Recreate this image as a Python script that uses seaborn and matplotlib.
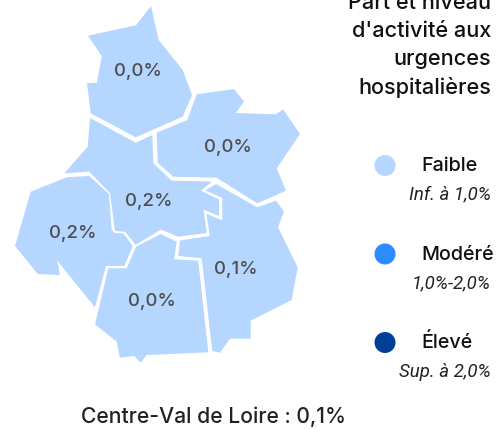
import seaborn as sns
import matplotlib.pyplot as plt
import pandas as pd

# ----------------------------
# Data read from the map
# ----------------------------
regions = ["Eure-et-Loir", "Loiret", "Loir-et-Cher", "Indre-et-Loire", "Indre", "Cher"]
shares = ["0,0%", "0,0%", "0,2%", "0,2%", "0,0%", "0,1%"]
levels = ["Faible", "Faible", "Faible", "Faible", "Faible", "Faible"]

# department outlines, in picture pixels
eure_et_loir = [(151, 6), (158.7, 40), (182.7, 70), (192, 95), (182.7, 116.7), (135.7, 137.3),
                (90.7, 113.3), (87, 83.3), (97, 82.7), (101.7, 56), (88, 35.7), (136, 25.3)]
loiret = [(196.7, 94.3), (234, 89), (244, 101.3), (236, 113), (276, 114.3), (283, 109.3),
          (300, 134), (276.7, 168.3), (286, 190.7), (257.3, 203.3), (216.7, 177.7),
          (173.3, 176.7), (157.7, 162.7), (156.7, 132.7), (187.3, 120)]
loir_et_cher = [(90, 118), (135.7, 142.7), (152.3, 135), (153.3, 163.3), (171.7, 180.7),
                (212, 181.5), (201, 190.7), (219, 199.5), (219, 216), (203.5, 209.5),
                (206.7, 233), (178, 236.7), (161, 229.5), (135.7, 245), (125, 231.7),
                (115, 231), (110, 193.3), (89.3, 171.7), (64.3, 173.3), (87.7, 146.7)]
indre_et_loire = [(30.7, 191.7), (66.7, 177.3), (89.3, 176), (109, 194), (111.7, 230),
                  (115, 233.3), (123.3, 233.3), (132.7, 246), (124.3, 266), (106, 266),
                  (95, 307.3), (57.3, 260.7), (60, 275), (37.7, 274), (15, 246)]
indre = [(136, 246.7), (160.7, 234), (176.7, 241.7), (174, 259.3), (198.3, 260.7),
         (208.3, 352.3), (146.7, 355), (140.7, 362.7), (134, 356), (120, 357.7),
         (116.7, 341.7), (95, 324.3), (108.3, 268.3), (126.7, 268.3)]
cher = [(216, 184), (257.3, 207.3), (276, 200.7), (284, 211.7), (278, 227.3), (297.7, 267.3),
        (291.7, 300), (250.7, 320.7), (250.7, 338.7), (230, 338.7), (220, 352.7), (212.3, 351),
        (201.7, 258.3), (178.3, 256), (180, 240.5), (209.8, 236), (206.5, 213.7),
        (222.3, 220.5), (222.3, 198), (205.5, 190.5)]
outlines = [eure_et_loir, loiret, loir_et_cher, indre_et_loire, indre, cher]

legend_levels = ["Faible", "Modéré", "Élevé"]
legend_ranges = ["Inf. à 1,0%", "1,0%-2,0%", "Sup. à 2,0%"]
level_colors = ["#b5d6ff", "#2b8bff", "#003f98"]

title_lines = ["Part et niveau", "d'activité aux", "urgences", "hospitalières"]
footer = "Centre-Val de Loire : 0,1%"

# ----------------------------
# Map
# ----------------------------
sns.set_theme(style="white")
plt.rcParams["font.family"] = ["Inter", "DejaVu Sans"]
palette = dict(zip(legend_levels, level_colors))

fig, ax = plt.subplots(figsize=(5.03, 4.30), dpi=100)
ax.set_position([0, 0, 1, 1])

label_spots = [(138, 72), (228, 148), (149, 202), (73, 233), (152, 301), (236, 269)]
for outline, level, share, spot in zip(outlines, levels, shares, label_spots):
    xs, ys = zip(*outline)
    ax.fill(xs, ys, color=palette[level], lw=0)
    ax.text(spot[0], spot[1], share, color="#4d4d4d", fontsize=13.4, fontweight="medium",
            ha="center", va="center")

# ----------------------------
# Legend
# ----------------------------
for i, line in enumerate(title_lines):
    ax.text(491, 3 + i * 28, line, color="#111111", fontsize=15.6, fontweight="medium",
            ha="right", va="center")

legend_df = pd.DataFrame({"x": [385] * 3, "y": [165.5 + i * 88.5 for i in range(3)], "level": legend_levels})
sns.scatterplot(data=legend_df, x="x", y="y", hue="level", palette=palette, s=229,
                linewidth=0, legend=False, ax=ax)

for i, (level, rng) in enumerate(zip(legend_levels, legend_ranges)):
    ax.text(421, 166 + i * 88.5, level, color="#111111", fontsize=14.2, fontweight="medium",
            ha="left", va="center")
    ax.text(491, 194 + i * 89, rng, color="#222222", fontsize=13.4, style="italic",
            family=["Roboto", "DejaVu Sans"], ha="right", va="center")

ax.text(214, 417, footer, color="#222222", fontsize=15.2, fontweight="medium",
        ha="center", va="center")

ax.set_xlim(0, 503)
ax.set_ylim(430, 0)
ax.axis("off")

plt.savefig("out.png", dpi=100)
plt.close()
